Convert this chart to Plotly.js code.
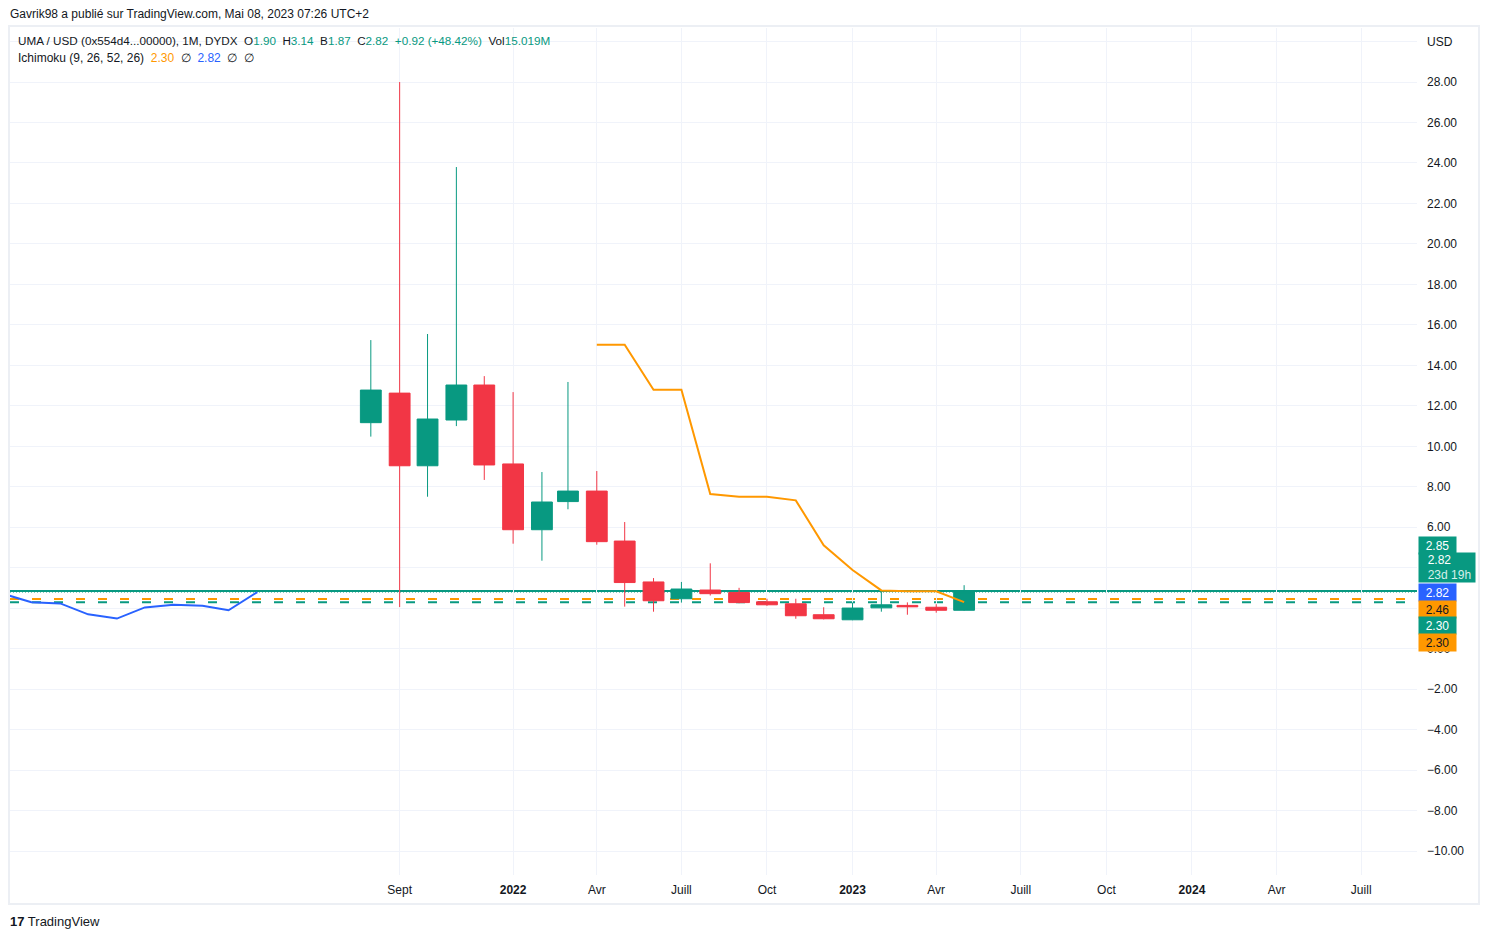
<!DOCTYPE html>
<html><head><meta charset="utf-8">
<script src="https://cdn.plot.ly/plotly-3.0.1.min.js"></script>
<style>html,body{margin:0;padding:0;background:#fff;}#chart{width:1489px;height:939px;}</style>
</head><body><div id="chart"></div>
<script>
// ---- data ----
const candleDates = ['2021-08-01','2021-09-01','2021-10-01','2021-11-01','2021-12-01','2022-01-01','2022-02-01','2022-03-01','2022-04-01','2022-05-01','2022-06-01','2022-07-01','2022-08-01','2022-09-01','2022-10-01','2022-11-01','2022-12-01','2023-01-01','2023-02-01','2023-03-01','2023-04-01','2023-05-01'];
const openVals  = [11.17,12.63, 9.04,11.30,13.03, 9.13,5.88, 7.27,7.79,5.32,3.30,2.47,2.90,2.78,2.32,2.22,1.68,1.43,2.02,2.14,2.05,1.90];
const highVals  = [15.25,28.00,15.55,23.80,13.47,12.68,8.73,13.18,8.78,6.26,3.49,3.30,4.22,3.01,2.47,2.47,2.05,2.28,2.90,2.29,2.20,3.14];
const lowVals   = [10.48, 2.06, 7.51,11.00, 8.34, 5.19,4.35, 6.89,5.14,2.08,1.83,2.28,2.63,2.25,2.12,1.48,1.45,1.41,1.83,1.68,1.78,1.87];
const closeVals = [12.78, 9.04,11.35,13.03, 9.08, 5.88,7.25, 7.79,5.29,3.27,2.37,2.95,2.72,2.28,2.17,1.63,1.48,2.01,2.17,2.07,1.90,2.82];

const conversionDates = ['2022-04-01','2022-05-01','2022-06-01','2022-07-01','2022-08-01','2022-09-01','2022-10-01','2022-11-01','2022-12-01','2023-01-01','2023-02-01','2023-03-01','2023-04-01','2023-05-01'];
const conversionVals  = [15.02,15.02,12.80,12.80,7.64,7.51,7.51,7.33,5.11,3.89,2.88,2.84,2.84,2.30];

const laggingDates = ['2020-07-01','2020-08-01','2020-09-01','2020-10-01','2020-11-01','2020-12-01','2021-01-01','2021-02-01','2021-03-01','2021-04-01'];
const laggingVals  = [2.72,2.30,2.24,1.70,1.49,2.04,2.17,2.12,1.90,2.80];

// horizontal levels
const levelVals   = [2.85, 2.82, 2.46, 2.30];
const levelColors = ['#089981','#089981','#ff9800','#089981'];
const levelDash   = ['solid','1px,2px','9px,13px','9px,13px'];

const xTickVals = ['2021-09-01','2022-01-01','2022-04-01','2022-07-01','2022-10-01','2023-01-01','2023-04-01','2023-07-01','2023-10-01','2024-01-01','2024-04-01','2024-07-01'];
const xTickText = ['Sept','<b>2022</b>','Avr','Juill','Oct','<b>2023</b>','Avr','Juill','Oct','<b>2024</b>','Avr','Juill'];
const yTickVals = [];
for (let v = -10; v <= 30; v += 2) yTickVals.push(v);
// 2.00 and 4.00 are covered by the price tags in the original
const yTickText = yTickVals.map(v => v === 30 ? 'USD' : (v === 2 || v === 4) ? '' : (v < 0 ? '\u2212' + Math.abs(v).toFixed(2) : v.toFixed(2)));

const tagTexts  = ['2.85','&nbsp;&nbsp;2.82<br>&nbsp;&nbsp;<span style="color:#d6f0ea">23d 19h</span>','2.82','2.46','2.30','2.30'];
const tagColors = ['#089981','#089981','#2962ff','#ff9800','#089981','#ff9800'];
const tagFont   = ['#ffffff','#ffffff','#ffffff','#131722','#ffffff','#131722'];

// ---- layout helpers (pixel -> paper) ----
const L = 10, R = 1417, T = 28, B = 875;
const px = x => (x - L) / (R - L);
const py = y => (B - y) / (B - T);
const FONT = 'Liberation Sans, Arial, sans-serif';
const GREEN = '#089981', RED = '#f23645', DARK = '#131722';

const traces = [
  {
    type: 'candlestick', x: candleDates, open: openVals, high: highVals, low: lowVals, close: closeVals,
    increasing: {line: {color: GREEN, width: 1}, fillcolor: GREEN},
    decreasing: {line: {color: RED, width: 1}, fillcolor: RED},
    whiskerwidth: 0, hoverinfo: 'skip', showlegend: false
  },
  {type: 'scatter', mode: 'lines', x: conversionDates, y: conversionVals, line: {color: '#ff9800', width: 2}, hoverinfo: 'skip', showlegend: false},
  {type: 'scatter', mode: 'lines', x: laggingDates, y: laggingVals, line: {color: '#2962ff', width: 2}, hoverinfo: 'skip', showlegend: false}
];

const shapes = levelVals.map((v, i) => ({
  type: 'line', xref: 'paper', x0: 0, x1: 1, yref: 'y', y0: v, y1: v,
  line: {color: levelColors[i], width: i === 1 ? 1.5 : 2, dash: levelDash[i]}, layer: 'below'
}));
shapes.push({type: 'rect', xref: 'paper', yref: 'paper', x0: px(9), x1: px(1479), y0: py(904), y1: py(26),
  line: {color: '#eceff4', width: 2}, fillcolor: 'rgba(0,0,0,0)', layer: 'below'});

const g = s => '<span style="color:' + GREEN + '">' + s + '</span>';
const annotations = [
  {xref: 'paper', yref: 'paper', x: px(8), y: py(14), xanchor: 'left', yanchor: 'middle', showarrow: false,
   text: 'Gavrik98 a publié sur TradingView.com, Mai 08, 2023 07:26 UTC+2', font: {family: FONT, size: 12, color: DARK}},
  {xref: 'paper', yref: 'paper', x: px(16), y: py(41), xanchor: 'left', yanchor: 'middle', showarrow: false,
   text: 'UMA / USD (0x554d4...00000), 1M, DYDX  O' + g('1.90') + '  H' + g('3.14') + '  B' + g('1.87') + '  C' + g('2.82') + '  ' + g('+0.92 (+48.42%)') + '  Vol' + g('15.019M'),
   font: {family: FONT, size: 11.7, color: DARK}},
  {xref: 'paper', yref: 'paper', x: px(16), y: py(58), xanchor: 'left', yanchor: 'middle', showarrow: false,
   text: 'Ichimoku (9, 26, 52, 26)  <span style="color:#ff9800">2.30</span>  ∅  <span style="color:#2962ff">2.82</span>  ∅  ∅',
   font: {family: FONT, size: 12, color: DARK}},
  {xref: 'paper', yref: 'paper', x: px(8), y: py(921), xanchor: 'left', yanchor: 'middle', showarrow: false,
   text: '<b>17</b> TradingView', font: {family: FONT, size: 13, color: DARK}}
];
const tagCenters = [545, 567.5, 592, 609, 626, 643];
tagTexts.forEach((t, i) => {
  const two = i === 1;
  annotations.push({xref: 'paper', yref: 'paper', x: px(1418), y: py(tagCenters[i]), xanchor: 'left', yanchor: 'middle',
    showarrow: false, text: t, bgcolor: tagColors[i], font: {family: FONT, size: 12, color: tagFont[i]},
    width: two ? 52 : 33, height: two ? 25 : 13, borderpad: 2, align: two ? 'left' : 'center'});
});

const layout = {
  width: 1489, height: 939, margin: {l: L, r: 1489 - R, t: T, b: 939 - B},
  paper_bgcolor: '#ffffff', plot_bgcolor: '#ffffff', showlegend: false, hovermode: false,
  boxgap: 0.2, boxgroupgap: 0,
  font: {family: FONT, size: 12, color: DARK},
  xaxis: {type: 'date', range: ['2020-07-09', '2024-08-30'], tickmode: 'array', tickvals: xTickVals, ticktext: xTickText,
    showgrid: true, gridcolor: '#f0f3fa', gridwidth: 1, zeroline: false, showline: false, ticks: '',
    ticklabelstandoff: 6,
    rangeslider: {visible: false}, tickfont: {family: FONT, size: 12, color: DARK}, fixedrange: true},
  yaxis: {side: 'right', range: [-11.18, 30.67], tickmode: 'array', tickvals: yTickVals, ticktext: yTickText,
    showgrid: true, gridcolor: '#f0f3fa', gridwidth: 1, zeroline: false, showline: false, ticks: '',
    ticklabelstandoff: 9,
    tickfont: {family: FONT, size: 12, color: DARK}, fixedrange: true},
  shapes: shapes, annotations: annotations
};
Plotly.newPlot('chart', traces, layout, {displayModeBar: false, staticPlot: true});
</script></body></html>
